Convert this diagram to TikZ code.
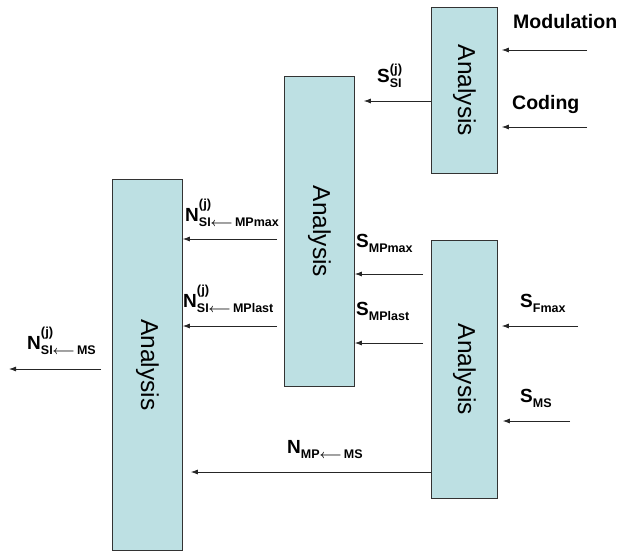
\documentclass[tikz,border=0pt]{standalone}
\usepackage{fontspec}
\setmainfont{Liberation Sans}
\usetikzlibrary{arrows.meta}
\definecolor{boxc}{HTML}{BDE0E3}
\newcommand\Lsub[2]{{\fontsize{19}{19}\selectfont #1}\raisebox{-5pt}{\fontsize{12.5}{12.5}\selectfont #2}}
\newcommand\Lsubsup[3]{{\fontsize{19}{19}\selectfont #1}\rlap{\raisebox{#3}{\fontsize{13}{13}\selectfont (j)}}\raisebox{-5pt}{\fontsize{12.5}{12.5}\selectfont #2}}
\newcommand\larr{{\boldmath$\longleftarrow$}}
\tikzset{
  anbox/.style={draw=black!80, line width=0.8pt, fill=boxc, anchor=north west, inner sep=0pt,
    font=\fontsize{24.5}{24.5}\selectfont},
  arr/.style={-{Latex[length=7pt,width=5pt]}, line width=0.8pt, black!85},
  lab/.style={anchor=base west, inner sep=0pt, font=\bfseries},
}
\begin{document}
\begin{tikzpicture}[x=1pt,y=-1pt]
\useasboundingbox (0,0) rectangle (620,551);
% boxes
\node[anbox, minimum width=66pt, minimum height=166pt] (A) at (431,7) {\rotatebox{-90}{Analysis}};
\node[anbox, minimum width=70pt, minimum height=310pt] (B) at (284,76) {\rotatebox{-90}{Analysis}};
\node[anbox, minimum width=66pt, minimum height=258pt] (C) at (431,240) {\rotatebox{-90}{Analysis}};
\node[anbox, minimum width=70pt, minimum height=371pt] (D) at (112,179) {\rotatebox{-90}{Analysis}};
% free ends
\coordinate (m1) at (587,50);
\coordinate (c1) at (587,127);
\coordinate (f1) at (578,326);
\coordinate (s1) at (570,421);
\coordinate (o1) at (9,369);
% arrows
\draw[arr] (m1) -- ([xshift=4pt]A.east |- m1);
\draw[arr] (c1) -- ([xshift=4pt]A.east |- c1);
\draw[arr] (A.west |- 0,101) -- ([xshift=9pt]B.east |- 0,101);
\draw[arr] ([xshift=-8pt]C.west |- 0,274) -- (B.east |- 0,274);
\draw[arr] ([xshift=-8pt]C.west |- 0,343) -- (B.east |- 0,343);
\draw[arr] (f1) -- ([xshift=4pt]C.east |- f1);
\draw[arr] (s1) -- ([xshift=5pt]C.east |- s1);
\draw[arr] (C.west |- 0,472) -- ([xshift=8pt]D.east |- 0,472);
\draw[arr] ([xshift=-7pt]B.west |- 0,239) -- (D.east |- 0,239);
\draw[arr] ([xshift=-7pt]B.west |- 0,326) -- (D.east |- 0,326);
\draw[arr] ([xshift=-11pt]D.west |- o1) -- (o1);
% labels
\node[lab, font=\bfseries\fontsize{19.5}{19.5}\selectfont] (lmod) at (513,29) {Modulation};
\node[lab, font=\bfseries\fontsize{19.5}{19.5}\selectfont] (lcod) at (512,109) {Coding};
\node[lab] (lssi) at (377,82) {\Lsubsup{S}{SI}{9pt}};
\node[lab] (lsmpmax) at (356,247) {\Lsub{S}{MPmax}};
\node[lab] (lsmplast) at (356,315) {\Lsub{S}{MPlast}};
\node[lab] (lsfmax) at (520,307) {\Lsub{S}{Fmax}};
\node[lab] (lsms) at (520,402) {\Lsub{S}{MS}};
\node[lab] (lnmp) at (287,453) {\Lsub{N}{MP\larr\,MS}};
\node[lab] (lnmax) at (185,221) {\Lsubsup{N}{SI\larr\,MPmax}{13pt}};
\node[lab] (lnlast) at (183,307) {\Lsubsup{N}{SI\larr\,MPlast}{13pt}};
\node[lab] (lnms) at (27,349) {\Lsubsup{N}{SI\larr\,MS}{13pt}};
\end{tikzpicture}
\end{document}
